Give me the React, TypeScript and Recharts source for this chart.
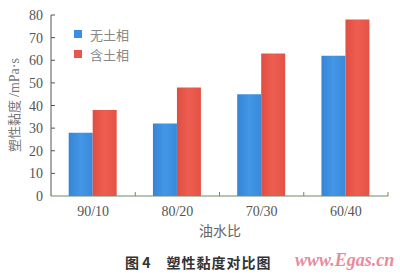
import React from 'react';
import { BarChart, Bar, XAxis, YAxis } from 'recharts';

const categories = ['90/10', '80/20', '70/30', '60/40'];
const noClay = [28, 32, 45, 62];
const withClay = [38, 48, 63, 78];
const yTicks = [0, 10, 20, 30, 40, 50, 60, 70, 80];
const seriesNames = ['无土相', '含土相'];
const seriesColors = ['#3b8fe0', '#e9574b'];

const data = categories.map((c, i) => ({ cat: c, a: noClay[i], b: withClay[i] }));

const FONT = '"Liberation Serif", "Times New Roman", serif';
const CJK = '"Noto Sans CJK SC", "Noto Sans CJK JP", sans-serif';

const W = 400;
const H = 274;
const M = { top: 15, right: 12, left: 0, bottom: 50 };
const Y_W = 51;
const HALF_BAND = (W - M.left - M.right - Y_W) / categories.length / 2;
const X_MARGIN = 8;

const YTick = (props: any) => {
  const { x, y, payload } = props;
  return (
    <g>
      <text x={x} y={y} dy={5} textAnchor="end" fill="#555" fontSize={14} fontFamily={FONT}>
        {payload.value}
      </text>
      {payload.value !== 0 && <line x1={x + 8} x2={x + 12} y1={y} y2={y} stroke="#555" strokeWidth={1} />}
    </g>
  );
};

const XTick = (props: any) => {
  const { x, y, payload } = props;
  const ay = y - X_MARGIN;
  return (
    <g>
      <text x={x} y={y} dy={12} textAnchor="middle" fill="#555" fontSize={14} fontFamily={FONT}>
        {payload.value}
      </text>
      <line x1={x + HALF_BAND} x2={x + HALF_BAND} y1={ay} y2={ay - 4} stroke="#6f8a66" strokeWidth={1} />
    </g>
  );
};

export default function App() {
  return (
    <div style={{ position: 'absolute', left: 0, top: 0, width: W, height: H, background: '#fff' }}>
      <BarChart width={W} height={H} data={data} margin={M} barCategoryGap="21%" barGap={0}>
        <defs>
          <linearGradient id="gBlue" x1="0" y1="0" x2="1" y2="0">
            <stop offset="0%" stopColor="#3784d6" />
            <stop offset="50%" stopColor="#4297e6" />
            <stop offset="100%" stopColor="#3a89da" />
          </linearGradient>
          <linearGradient id="gRed" x1="0" y1="0" x2="1" y2="0">
            <stop offset="0%" stopColor="#e04e43" />
            <stop offset="50%" stopColor="#ee5e50" />
            <stop offset="100%" stopColor="#e25246" />
          </linearGradient>
        </defs>
        <XAxis
          dataKey="cat"
          tickLine={false}
          axisLine={{ stroke: '#6f8a66', strokeWidth: 1.2 }}
          tick={<XTick />}
          tickMargin={X_MARGIN}
          tickSize={0}
          height={28}
          interval={0}
        />
        <YAxis
          domain={[0, 80]}
          ticks={yTicks}
          width={Y_W}
          tickSize={0}
          tickMargin={8}
          axisLine={{ stroke: '#555', strokeWidth: 1 }}
          tick={<YTick />}
          interval={0}
        />
        <Bar dataKey="a" name={seriesNames[0]} fill="url(#gBlue)" isAnimationActive={false} />
        <Bar dataKey="b" name={seriesNames[1]} fill="url(#gRed)" isAnimationActive={false} />
      </BarChart>
      <div style={{ position: 'absolute', left: 74, top: 24 }}>
        {seriesNames.map((n, i) => (
          <div key={n} style={{ display: 'flex', alignItems: 'center', height: 20 }}>
            <span style={{ width: 8, height: 8, background: seriesColors[i], display: 'inline-block' }} />
            <span style={{ marginLeft: 8, fontFamily: CJK, fontSize: 13, color: '#888' }}>{n}</span>
          </div>
        ))}
      </div>
      <div
        style={{
          position: 'absolute',
          left: 13,
          top: 105,
          transform: 'translate(-50%, -50%) rotate(-90deg)',
          whiteSpace: 'nowrap',
          fontFamily: CJK,
          fontSize: 13,
          color: '#777',
        }}
      >
        塑性黏度 <span style={{ fontFamily: FONT, fontSize: 14 }}>/mPa·s</span>
      </div>
      <div
        style={{
          position: 'absolute',
          left: 220,
          top: 220,
          transform: 'translateX(-50%)',
          whiteSpace: 'nowrap',
          fontFamily: CJK,
          fontSize: 14,
          color: '#666',
        }}
      >
        油水比
      </div>
      <div
        style={{
          position: 'absolute',
          left: 125,
          top: 252,
          whiteSpace: 'nowrap',
          fontFamily: CJK,
          fontSize: 14,
          fontWeight: 'bold',
          color: '#333',
        }}
      >
        <span>图 4</span>
        <span style={{ marginLeft: 16, letterSpacing: 1 }}>塑性黏度对比图</span>
      </div>
      <div
        style={{
          position: 'absolute',
          left: 295,
          top: 250,
          whiteSpace: 'nowrap',
          fontFamily: FONT,
          fontStyle: 'italic',
          fontWeight: 'bold',
          fontSize: 18,
          color: '#e88b9a',
        }}
      >
        www.Egas.cn
      </div>
    </div>
  );
}
